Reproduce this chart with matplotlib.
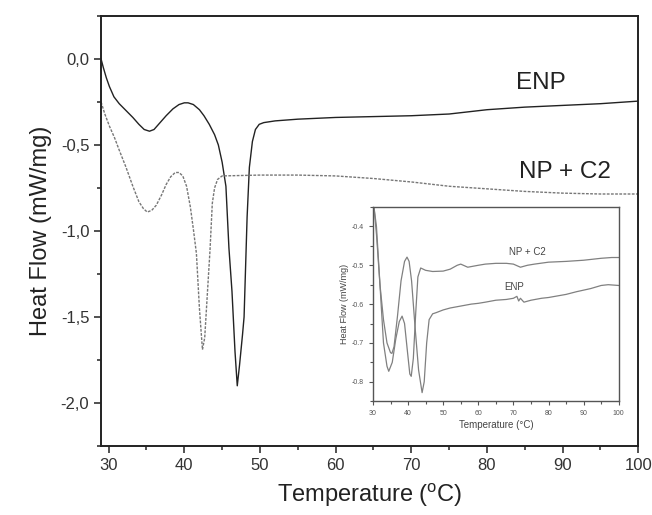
import matplotlib
matplotlib.use("Agg")
import matplotlib.pyplot as plt
from matplotlib.ticker import MultipleLocator, FixedLocator, FixedFormatter

plt.rcParams["font.family"] = ["Liberation Sans", "DejaVu Sans"]

# main chart
enp_t = [29, 29.3, 29.7, 30.1, 30.7, 31.4, 32.3, 33.2, 34.0, 34.7, 35.4, 36.0,
         36.8, 37.6, 38.5, 39.3, 40.0, 40.5, 41.2, 42.0, 42.6, 43.3, 44.0,
         44.5, 45.0, 45.5, 45.9, 46.3, 46.7, 47.0, 47.3, 47.7, 47.9, 48.3,
         48.6, 49.0, 49.4, 49.9, 50.5, 52, 55, 60, 65, 70, 75, 80, 85, 90, 95,
         100]
enp_hf = [0.0, -0.05, -0.11, -0.16, -0.22, -0.26, -0.30, -0.34, -0.38, -0.41,
          -0.42, -0.41, -0.37, -0.33, -0.29, -0.265, -0.255, -0.255, -0.265,
          -0.295, -0.33, -0.38, -0.44, -0.50, -0.60, -0.74, -1.1, -1.35, -1.7,
          -1.9, -1.78, -1.6, -1.5, -0.92, -0.63, -0.48, -0.41, -0.38, -0.37,
          -0.36, -0.35, -0.34, -0.335, -0.33, -0.32, -0.295, -0.28, -0.27,
          -0.26, -0.245]

npc2_t = [29, 29.5, 30.1, 30.8, 31.4, 32.3, 33.2, 34.0, 34.6, 35.1, 35.7, 36.3,
          37.0, 37.6, 38.2, 38.8, 39.3, 39.8, 40.3, 40.8, 41.2, 41.6, 42.0,
          42.4, 42.7, 43.0, 43.4, 43.7, 44.0, 44.4, 45.0, 50, 55, 60, 65, 70,
          75, 80, 85, 90, 95, 100]
npc2_hf = [-0.25, -0.32, -0.39, -0.46, -0.53, -0.63, -0.74, -0.83, -0.87,
           -0.89, -0.88, -0.85, -0.79, -0.73, -0.685, -0.66, -0.66, -0.68,
           -0.74, -0.86, -0.99, -1.13, -1.45, -1.69, -1.62, -1.40, -1.11,
           -0.84, -0.75, -0.70, -0.68, -0.675, -0.675, -0.68, -0.695, -0.715,
           -0.74, -0.755, -0.77, -0.78, -0.785, -0.785]

# inset chart
in_npc2_t = [30, 31, 32, 33, 34, 34.5, 35.5, 36.5, 37.5, 38.3, 39.0, 39.8,
             40.5, 40.9, 41.5, 42.2, 42.8, 43.6, 45, 47, 50, 52, 54, 55, 57,
             60, 62, 65, 68, 70, 72, 74, 76, 80, 85, 90, 95, 98, 100]
in_npc2_hf = [-0.33, -0.40, -0.55, -0.70, -0.76, -0.773, -0.75, -0.69, -0.645,
              -0.631, -0.65, -0.72, -0.78, -0.786, -0.74, -0.62, -0.53, -0.507,
              -0.513, -0.516, -0.515, -0.51, -0.50, -0.497, -0.505, -0.50,
              -0.497, -0.495, -0.495, -0.497, -0.505, -0.50, -0.497, -0.492,
              -0.49, -0.487, -0.482, -0.48, -0.48]

in_enp_t = [30, 31, 32, 33, 34, 35, 35.4, 36, 37, 38, 39, 39.7, 40.3, 41, 42,
            43, 44.0, 44.6, 45.3, 46, 47, 48, 50, 52, 55, 58, 60, 62, 65, 68,
            70, 71, 71.5, 72, 73, 75, 78, 80, 85, 88, 92, 95, 97, 100]
in_enp_hf = [-0.32, -0.42, -0.55, -0.64, -0.70, -0.725, -0.727, -0.71, -0.63,
             -0.54, -0.49, -0.479, -0.49, -0.54, -0.66, -0.77, -0.828, -0.80,
             -0.70, -0.64, -0.625, -0.622, -0.615, -0.61, -0.605, -0.60,
             -0.598, -0.595, -0.59, -0.588, -0.585, -0.58, -0.592, -0.585,
             -0.595, -0.59, -0.585, -0.583, -0.575, -0.568, -0.56, -0.552,
             -0.55, -0.552]

main_yticks = [0.0, -0.5, -1.0, -1.5, -2.0]
main_ylabels = ["0,0", "-0,5", "-1,0", "-1,5", "-2,0"]
inset_yticks = [-0.4, -0.5, -0.6, -0.7, -0.8]
inset_ylabels = ["-0.4", "-0.5", "-0.6", "-0.7", "-0.8"]

fig = plt.figure(figsize=(6.52, 5.15), dpi=100)
ax = fig.add_axes([0.155, 0.134, 0.824, 0.835])

ax.plot(enp_t, enp_hf, color="#222222", lw=1.0)
ax.plot(npc2_t, npc2_hf, color="#777777", lw=1.0, ls=(0, (2, 1)))

ax.set_xlim(29, 100)
ax.set_ylim(-2.25, 0.25)
ax.xaxis.set_major_locator(MultipleLocator(10))
ax.xaxis.set_minor_locator(MultipleLocator(5))
ax.yaxis.set_major_locator(FixedLocator(main_yticks))
ax.yaxis.set_major_formatter(FixedFormatter(main_ylabels))
ax.yaxis.set_minor_locator(MultipleLocator(0.25))
ax.tick_params(which="both", direction="out", width=1.2, labelsize=12,
               colors="#333333", top=False, right=False)
ax.tick_params(which="major", length=5)
ax.tick_params(which="minor", length=3)
for s in ax.spines.values():
    s.set_linewidth(1.4)
    s.set_color("#222222")
ax.set_xlabel("Temperature ($^{\\mathregular{o}}$C)", fontsize=17, color="#222222",
              labelpad=6)
ax.set_ylabel("Heat Flow (mW/mg)", fontsize=17, color="#222222", labelpad=6)

ax.text(87.1, -0.14, "ENP", fontsize=17.5, ha="center", va="center", color="#222222")
ax.text(90.3, -0.66, "NP + C2", fontsize=17.5, ha="center", va="center", color="#222222")

ins = fig.add_axes([0.572, 0.221, 0.377, 0.377])
ins.plot(in_npc2_t, in_npc2_hf, color="#808080", lw=0.9)
ins.plot(in_enp_t, in_enp_hf, color="#808080", lw=0.9)
ins.set_xlim(30, 100)
ins.set_ylim(-0.85, -0.35)
ins.xaxis.set_major_locator(MultipleLocator(10))
ins.xaxis.set_minor_locator(MultipleLocator(5))
ins.yaxis.set_major_locator(FixedLocator(inset_yticks))
ins.yaxis.set_major_formatter(FixedFormatter(inset_ylabels))
ins.yaxis.set_minor_locator(MultipleLocator(0.05))
ins.tick_params(which="both", direction="out", width=0.8, labelsize=5,
                colors="#555555", top=False, right=False)
ins.tick_params(which="major", length=3)
ins.tick_params(which="minor", length=2)
for s in ins.spines.values():
    s.set_linewidth(1.0)
    s.set_color("#555555")
ins.set_xlabel("Temperature (°C)", fontsize=7, color="#444444", labelpad=2)
ins.set_ylabel("Heat Flow (mW/mg)", fontsize=6.5, color="#444444", labelpad=2)
ins.text(74, -0.467, "NP + C2", fontsize=7, ha="center", va="center", color="#444444")
ins.text(70.3, -0.555, "ENP", fontsize=7, ha="center", va="center", color="#444444")

fig.savefig("out.png", dpi=100)
